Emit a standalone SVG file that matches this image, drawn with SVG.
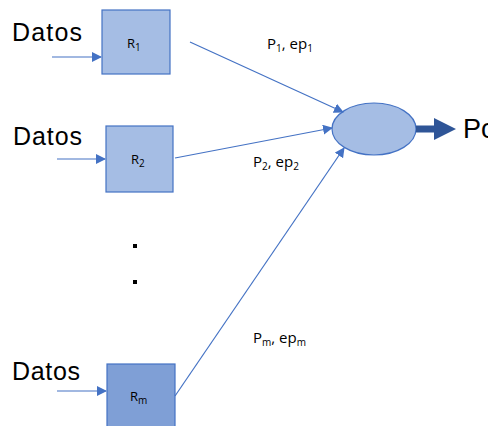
<svg xmlns="http://www.w3.org/2000/svg" width="488" height="426" viewBox="0 0 488 426">
<style>
.big{font-family:"Liberation Sans","Open Sans",sans-serif;font-size:25px;fill:#000}
.lbl{font-family:"Open Sans","Liberation Sans",sans-serif;font-size:15px;fill:#000}
.rl{font-family:"Open Sans","Liberation Sans",sans-serif;font-size:13px;fill:#000}
.box{fill:#a5bde4;stroke:#4472c4;stroke-width:1.2}
.boxd{fill:#7f9fd6;stroke:#4472c4;stroke-width:1.2}
.ln{stroke:#4472c4;stroke-width:1.2;fill:none;marker-end:url(#ah)}
.sub{font-size:10px}
</style>
<defs>
<marker id="ah" viewBox="0 0 10 10" refX="9" refY="5" markerWidth="10" markerHeight="10" markerUnits="userSpaceOnUse" orient="auto">
<path d="M0,0 L10,5 L0,10 z" fill="#4472c4"/>
</marker>
</defs>
<rect width="488" height="426" fill="#fff"/>
<g id="inputs">
<text class="big" x="12" y="41" textLength="70">Datos</text>
<text class="big" x="13" y="145" textLength="69">Datos</text>
<text class="big" x="12" y="380" textLength="68">Datos</text>
</g>
<g id="R1">
<rect class="box" x="102" y="10" width="68" height="64"/>
<text class="rl" x="127" y="48">R<tspan class="sub" dy="3">1</tspan></text>
</g>
<g id="R2">
<rect class="box" x="106" y="126" width="67" height="66"/>
<text class="rl" x="131" y="164">R<tspan class="sub" dy="3">2</tspan></text>
</g>
<g id="Rm">
<rect class="boxd" x="107" y="364" width="68" height="70"/>
<text class="rl" x="130" y="401">R<tspan class="sub" dy="3">m</tspan></text>
</g>
<g id="dots">
<rect x="133" y="244" width="4" height="4" fill="#000"/>
<rect x="133" y="280" width="4" height="4" fill="#000"/>
</g>
<g id="combiner">
<ellipse cx="374" cy="129" rx="42" ry="26" fill="#a5bde4" stroke="#4472c4" stroke-width="1.2"/>
</g>
<g id="output">
<text class="big" x="463" y="138" style="font-size:27px">Pc</text>
</g>
<g id="connectors">
<line class="ln" x1="52" y1="57" x2="101" y2="57"/>
<line class="ln" x1="57" y1="159" x2="105" y2="159"/>
<line class="ln" x1="57" y1="391" x2="106" y2="391"/>
<line class="ln" x1="190" y1="42" x2="343" y2="112"/>
<line class="ln" x1="175" y1="158" x2="332" y2="128"/>
<line class="ln" x1="175" y1="396" x2="344" y2="148"/>
<path d="M416,125.5 H434 V118 L456,129 L434,140 V132.5 H416 z" fill="#2f5597"/>
</g>
<g id="labels">
<text class="lbl" x="267" y="49">P<tspan class="sub" dy="3">1</tspan><tspan dy="-3">, ep</tspan><tspan class="sub" dy="3">1</tspan></text>
<text class="lbl" x="253" y="167">P<tspan class="sub" dy="3">2</tspan><tspan dy="-3">, ep</tspan><tspan class="sub" dy="3">2</tspan></text>
<text class="lbl" x="253" y="343">P<tspan class="sub" dy="3">m</tspan><tspan dy="-3">, ep</tspan><tspan class="sub" dy="3">m</tspan></text>
</g>
</svg>
